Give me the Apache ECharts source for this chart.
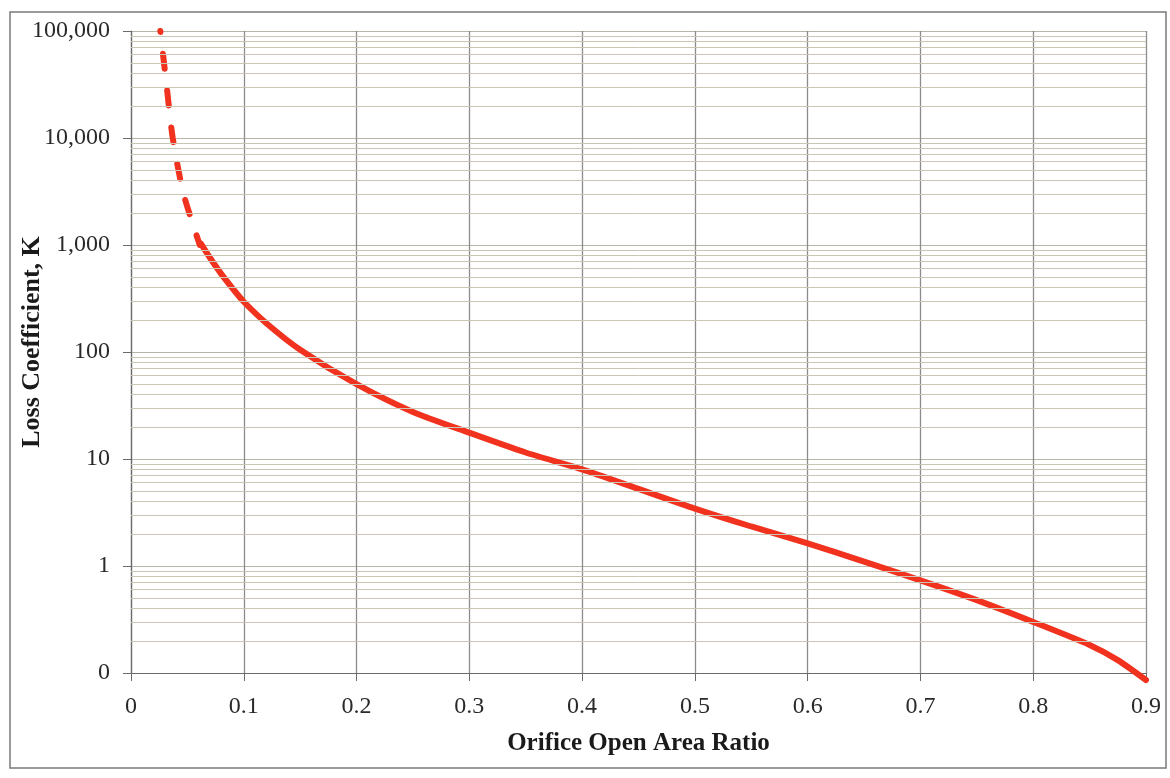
<!DOCTYPE html>
<html>
<head>
<meta charset="utf-8">
<script src="https://cdn.jsdelivr.net/npm/echarts@6/dist/echarts.min.js"></script>
<style>
  html, body { margin: 0; padding: 0; background: #fff; }
  #chart { width: 1170px; height: 778px; }
</style>
</head>
<body>
<div id="chart"></div>
<script>
// dashed part of the curve (extrapolated region)
const dashedX = [0.026, 0.0317, 0.037, 0.0466, 0.061];
const dashedK = [100000, 30000, 10000, 3000, 1000];

// solid part of the curve
const solidX = [0.062, 0.07, 0.08, 0.09, 0.1, 0.12, 0.15, 0.2, 0.25, 0.3, 0.35, 0.4, 0.45, 0.5, 0.55, 0.6, 0.65, 0.7, 0.75, 0.8, 0.85, 0.875, 0.9];
const solidK = [1030, 760, 537, 394, 295, 186, 105, 50, 27.5, 17.6, 11.5, 8, 5.25, 3.44, 2.34, 1.63, 1.1, 0.735, 0.48, 0.3, 0.183, 0.132, 0.086];

// minor gridline multipliers inside each decade
const decades = [0.1, 1, 10, 100, 1000, 10000];
const minorSteps = [2, 3, 4, 5, 6, 7, 8, 9];

const xTitle = "Orifice Open Area Ratio";
const yTitle = "Loss Coefficient, K";

const minorLines = [];
decades.forEach(d => minorSteps.forEach(m => minorLines.push({ yAxis: +(d * m).toPrecision(3) })));

const zip = (xs, ys) => xs.map((x, i) => [x, ys[i]]);
const font = "Liberation Serif";
const red = "#f0321e";

const chart = echarts.init(document.getElementById("chart"));
chart.setOption({
  animation: false,
  backgroundColor: "#ffffff",
  textStyle: { fontFamily: font },
  grid: { left: 131, top: 31, right: 24, bottom: 105, outerBoundsMode: "none", containLabel: false },
  graphic: [{
    type: "rect",
    shape: { x: 10, y: 12, width: 1156, height: 756 },
    style: { fill: "none", stroke: "#7a7a7a", lineWidth: 1.5 },
    silent: true
  }],
  xAxis: {
    type: "value",
    min: 0,
    max: 0.9,
    interval: 0.1,
    name: xTitle,
    nameLocation: "middle",
    nameGap: 58,
    nameMoveOverlap: false,
    nameTextStyle: { fontFamily: font, fontSize: 25, fontWeight: "bold", color: "#1a1a1a" },
    axisLine: { show: true, lineStyle: { color: "#6a6a6a", width: 1.2 } },
    axisTick: { show: true, length: 8, lineStyle: { color: "#6a6a6a" } },
    axisLabel: {
      fontFamily: font, fontSize: 24, color: "#2a2a2a", margin: 22,
      formatter: v => (v === 0 ? "0" : v.toFixed(1))
    },
    splitLine: { show: true, lineStyle: { color: "#8c8c8c", width: 1.3 } }
  },
  yAxis: {
    type: "log",
    logBase: 10,
    min: 0.1,
    max: 100000,
    name: yTitle,
    nameLocation: "middle",
    nameRotate: 90,
    nameGap: 86,
    nameMoveOverlap: false,
    nameTextStyle: { fontFamily: font, fontSize: 26, fontWeight: "bold", color: "#1a1a1a", padding: [0, 0, 0, 20] },
    axisLine: { show: true, lineStyle: { color: "#6a6a6a", width: 1.2 } },
    axisTick: { show: true, length: 8, lineStyle: { color: "#6a6a6a" } },
    axisLabel: {
      fontFamily: font, fontSize: 24, color: "#2a2a2a", margin: 21,
      formatter: v => (v < 1 ? "0" : Math.round(v).toLocaleString("en-US"))
    },
    splitLine: { show: true, lineStyle: { color: "#b8b4a8", width: 1.2 } }
  },
  series: [
    {
      name: "minor grid",
      type: "line",
      data: [],
      z: 1,
      silent: true,
      markLine: {
        silent: true,
        symbol: "none",
        label: { show: false },
        lineStyle: { color: "#cbc5b3", type: "solid", width: 1 },
        data: minorLines
      }
    },
    {
      name: "extrapolated",
      type: "line",
      data: zip(dashedX, dashedK),
      smooth: 0.25,
      showSymbol: false,
      z: 3,
      lineStyle: { color: red, width: 6, type: [15, 22], dashOffset: 14, cap: "round" }
    },
    {
      name: "K",
      type: "line",
      data: zip(solidX, solidK),
      smooth: 0.25,
      showSymbol: false,
      clip: false,
      z: 3,
      lineStyle: { color: red, width: 6, cap: "round" }
    }
  ]
});
</script>
</body>
</html>
